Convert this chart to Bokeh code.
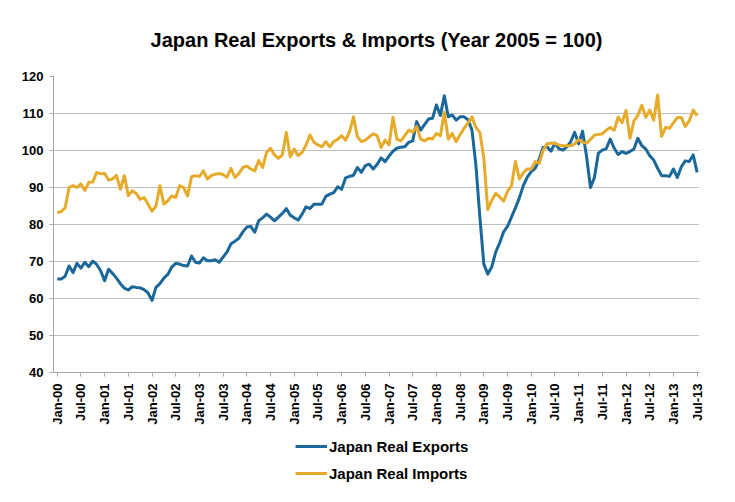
import math
from bokeh.plotting import figure
from bokeh.layouts import column
from bokeh.models import FixedTicker, Legend, LegendItem, Range1d
from bokeh.embed import file_html
from bokeh.resources import INLINE

# ---- data (monthly, Jan-2000 .. Jul-2013; Year 2005 = 100) ----
exports = [
    65.3, 65.3, 66.0, 68.8, 67.0, 69.5, 68.2, 69.8, 68.6, 70.1, 69.2, 67.5,
    64.8, 67.9, 66.8, 65.5, 64.0, 62.8, 62.3, 63.2, 63.0, 62.9, 62.4, 61.5,
    59.5, 63.0, 64.0, 65.5, 66.5, 68.5, 69.5, 69.3, 68.9, 68.8, 71.5, 69.8,
    69.6, 71.0, 70.2, 70.2, 70.5, 69.8, 71.2, 72.6, 74.8, 75.5, 76.3, 78.0,
    79.3, 79.5, 77.9, 81.0, 81.8, 82.8, 82.0, 81.0, 82.0, 83.0, 84.3, 82.5,
    81.8, 81.2, 82.8, 84.8, 84.3, 85.5, 85.5, 85.5, 87.6, 88.2, 88.6, 90.2,
    89.5, 92.6, 93.0, 93.3, 95.4, 94.1, 95.9, 96.3, 95.0, 96.3, 98.0, 97.0,
    98.5, 99.8, 100.6, 100.9, 101.0, 102.2, 102.6, 107.8, 105.5, 107.0, 108.5, 108.7,
    112.3, 109.5, 114.8, 109.1, 109.6, 108.2, 109.1, 109.1, 108.3, 105.5, 96.0, 82.0,
    69.3, 66.6, 68.5, 72.5, 75.0, 78.0, 79.5, 82.0, 84.5, 87.2, 90.5, 92.8,
    94.3, 95.2, 97.5, 100.8, 101.0, 99.8, 102.0, 100.5, 100.1, 101.0, 102.4, 104.9,
    101.8, 105.2, 98.5, 90.0, 92.7, 99.3, 100.1, 100.5, 103.1, 100.6, 98.9, 99.7,
    99.2, 99.7, 100.4, 103.3, 101.3, 100.4, 98.6, 97.4, 95.2, 93.2, 93.2, 93.0,
    95.0, 92.7, 95.6, 97.2, 97.0, 98.8, 94.1,
]
imports = [
    83.2, 83.5, 84.5, 90.0, 90.5, 90.0, 91.0, 89.2, 91.4, 91.5, 94.1, 93.7,
    93.8, 92.0, 92.3, 93.3, 89.5, 93.2, 87.8, 89.1, 88.4, 86.8, 87.3, 85.5,
    83.6, 85.0, 90.5, 85.5, 86.4, 87.7, 87.3, 90.5, 90.0, 87.7, 92.9, 93.2,
    93.0, 94.5, 92.3, 93.2, 93.6, 93.8, 93.5, 92.8, 95.2, 92.7, 93.8, 95.4,
    95.8, 95.0, 94.5, 97.3, 95.4, 99.5, 100.6, 98.8, 97.9, 98.8, 104.9, 98.3,
    100.4, 98.6, 99.5, 101.5, 104.2, 102.2, 101.5, 101.0, 102.4, 101.0, 102.4, 103.0,
    104.0, 102.8, 105.0, 109.1, 103.7, 102.4, 102.8, 103.7, 104.5, 104.0, 100.8, 102.8,
    101.5, 109.0, 103.1, 102.6, 104.0, 105.5, 104.9, 106.5, 103.1, 102.6, 103.3, 103.1,
    104.6, 104.0, 110.3, 103.1, 104.6, 102.4, 104.3, 106.0, 107.5, 109.1, 106.2, 104.9,
    98.0, 84.0, 86.5, 88.4, 87.5, 86.3, 89.0, 90.5, 97.0, 92.3, 94.0, 95.0,
    95.0, 97.0, 96.5, 100.0, 101.8, 102.0, 101.9, 101.5, 101.3, 101.3, 101.3, 101.8,
    103.0, 102.2, 102.0, 103.0, 104.2, 104.3, 104.5, 105.5, 106.2, 105.5, 109.0, 107.5,
    110.8, 103.3, 108.0, 109.5, 112.2, 109.0, 110.9, 108.2, 115.0, 103.8, 106.2, 106.0,
    107.5, 108.9, 108.9, 106.5, 108.0, 110.9, 109.4,
]
tick_labels = [
    "Jan-00", "Jul-00", "Jan-01", "Jul-01", "Jan-02", "Jul-02", "Jan-03", "Jul-03",
    "Jan-04", "Jul-04", "Jan-05", "Jul-05", "Jan-06", "Jul-06", "Jan-07", "Jul-07",
    "Jan-08", "Jul-08", "Jan-09", "Jul-09", "Jan-10", "Jul-10", "Jan-11", "Jul-11",
    "Jan-12", "Jul-12", "Jan-13", "Jul-13",
]
series_names = ["Japan Real Exports", "Japan Real Imports"]
y_ticks = [40, 50, 60, 70, 80, 90, 100, 110, 120]

months = list(range(len(exports)))
tick_pos = [6 * k for k in range(len(tick_labels))]

BLUE = "#1a679a"
GOLD = "#e6ab2a"
FONT = "Liberation Sans"
LEFT, RIGHT = 53, 36

# ---------------- main chart ----------------
p = figure(
    width=735, height=430,
    output_backend="svg", toolbar_location=None,
    x_range=Range1d(-0.94, 162.6), y_range=Range1d(40, 120),
    min_border_left=LEFT, min_border_right=RIGHT,
    min_border_top=76, min_border_bottom=58,
    title="Japan Real Exports & Imports (Year 2005 = 100)",
)
p.outline_line_color = None
p.background_fill_color = "white"
p.border_fill_color = "white"

p.title.align = "center"
p.title.vertical_align = "middle"
p.title.text_font = FONT
p.title.text_font_size = "20px"
p.title.text_font_style = "bold"
p.title.text_color = "black"
p.title.standoff = 49

p.xgrid.grid_line_color = None
p.ygrid.grid_line_color = "#c0c0c0"
p.ygrid.grid_line_width = 1
p.yaxis.ticker = FixedTicker(ticks=y_ticks)
p.xaxis.ticker = FixedTicker(ticks=tick_pos)
p.xaxis.major_label_overrides = {pos: lab for pos, lab in zip(tick_pos, tick_labels)}

for ax in (p.xaxis[0], p.yaxis[0]):
    ax.axis_line_color = "#a6a6a6"
    ax.axis_line_width = 1
    ax.major_tick_line_color = "#a6a6a6"
    ax.major_tick_in = 0
    ax.major_tick_out = 4
    ax.minor_tick_line_color = None
    ax.major_label_text_font = FONT
    ax.major_label_text_font_style = "bold"
    ax.major_label_text_font_size = "13px"
    ax.major_label_text_color = "black"

p.yaxis.major_label_standoff = 6
p.xaxis.major_label_standoff = 7
p.xaxis.major_label_orientation = math.pi / 2

p.line(months, exports, line_color=BLUE, line_width=3, line_join="round")
p.line(months, imports, line_color=GOLD, line_width=3, line_join="round")

# ---------------- legend strip ----------------
q = figure(
    width=735, height=72,
    output_backend="svg", toolbar_location=None,
    x_range=Range1d(0, 1), y_range=Range1d(0, 1),
    x_axis_location=None, y_axis_location=None,
    min_border_left=LEFT, min_border_right=RIGHT, min_border_top=0, min_border_bottom=0,
)
q.outline_line_color = None
q.xgrid.grid_line_color = None
q.ygrid.grid_line_color = None
q.background_fill_color = "white"
q.border_fill_color = "white"

# legend swatches only: points placed outside the visible range
l_exp = q.line([-5, -4], [-5, -4], line_color=BLUE, line_width=3)
l_imp = q.line([-5, -4], [-5, -4], line_color=GOLD, line_width=3)

legend = Legend(
    items=[LegendItem(label=series_names[0], renderers=[l_exp]),
           LegendItem(label=series_names[1], renderers=[l_imp])],
    location=(242, 19),
    orientation="vertical",
    padding=0, margin=0, spacing=7,
    glyph_width=32, glyph_height=20, label_height=20,
    label_standoff=2,
    label_text_font=FONT, label_text_font_style="bold",
    label_text_font_size="15px", label_text_color="black",
    border_line_color=None, background_fill_alpha=0,
)
q.add_layout(legend)

layout = column(p, q, spacing=0)
open("out.html", "w").write(file_html(layout, INLINE))
